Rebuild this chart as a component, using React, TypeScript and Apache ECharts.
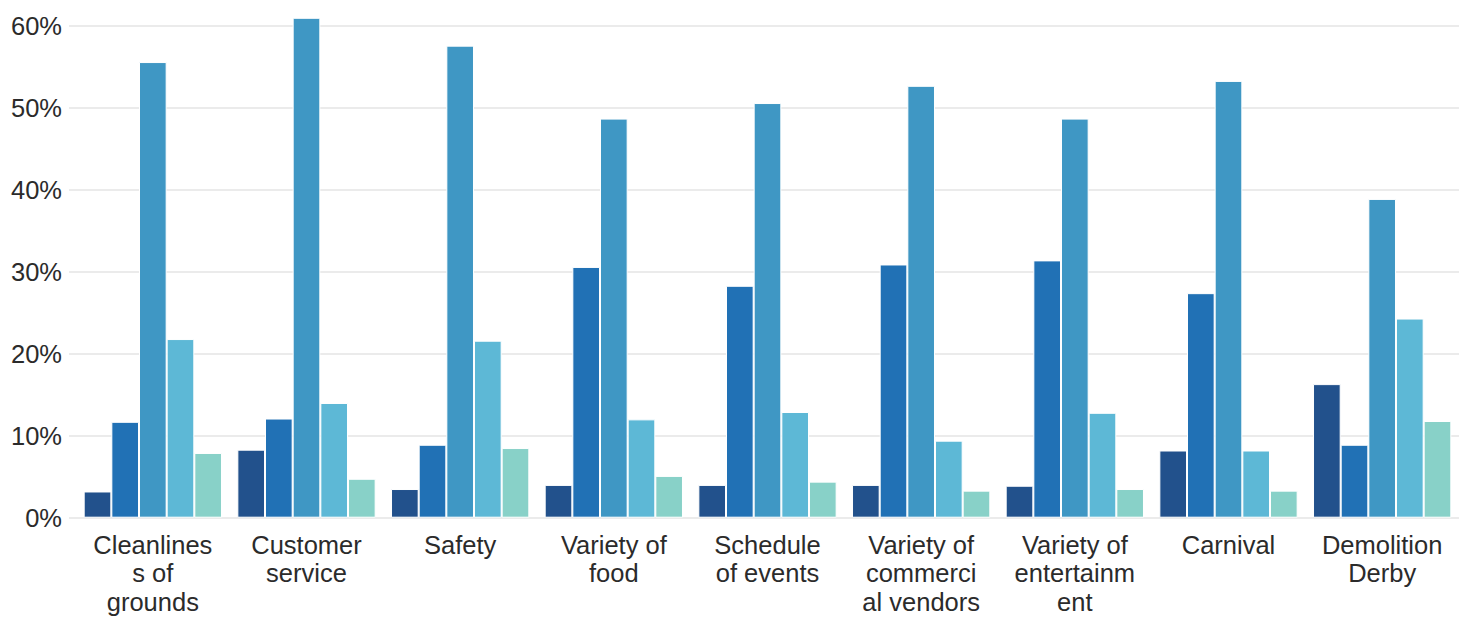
import React, { useEffect, useRef } from "react";
import * as echarts from "echarts";

const categories = [
  "Cleanliness of grounds",
  "Customer service",
  "Safety",
  "Variety of food",
  "Schedule of events",
  "Variety of commercial vendors",
  "Variety of entertainment",
  "Carnival",
  "Demolition Derby",
];

const tickLabels = [
  "Cleanlines\ns of\ngrounds",
  "Customer\nservice",
  "Safety",
  "Variety of\nfood",
  "Schedule\nof events",
  "Variety of\ncommerci\nal vendors",
  "Variety of\nentertainm\nent",
  "Carnival",
  "Demolition\nDerby",
];

const seriesNames = ["Rating 1", "Rating 2", "Rating 3", "Rating 4", "Rating 5"];

const rating1 = [3.2, 8.3, 3.5, 4.0, 4.0, 4.0, 3.9, 8.2, 16.3];
const rating2 = [11.7, 12.1, 8.9, 30.6, 28.3, 30.9, 31.4, 27.4, 8.9];
const rating3 = [55.6, 61.0, 57.6, 48.7, 50.6, 52.7, 48.7, 53.3, 38.9];
const rating4 = [21.8, 14.0, 21.6, 12.0, 12.9, 9.4, 12.8, 8.2, 24.3];
const rating5 = [7.9, 4.75, 8.5, 5.1, 4.4, 3.3, 3.5, 3.3, 11.8];

const seriesValues = [rating1, rating2, rating3, rating4, rating5];
const colors = ["#22518c", "#2171b5", "#3f97c4", "#5db8d6", "#88d1c8"];

const yTicks = [0, 10, 20, 30, 40, 50, 60];

export default function App() {
  const ref = useRef<HTMLDivElement>(null);

  useEffect(() => {
    document.body.style.margin = "0";
    if (!ref.current) return;
    const chart = echarts.init(ref.current, undefined, { renderer: "svg" });
    const top = 26;
    const bottom = 617 - 517.7;
    chart.setOption({
      animation: false,
      backgroundColor: "#ffffff",
      textStyle: { fontFamily: "Liberation Sans, Arial, sans-serif" },
      grid: [
        { left: 76, right: 0, top, bottom },
        { left: 69, right: 0, top, bottom },
      ],
      xAxis: [
        {
          type: "category",
          gridIndex: 0,
          data: categories,
          axisLine: { show: false },
          axisTick: { show: false },
          axisLabel: {
            interval: 0,
            margin: 13,
            fontSize: 25.5,
            lineHeight: 28.5,
            color: "#2b2b2b",
            fontFamily: "Liberation Sans, Arial, sans-serif",
            formatter: (_v: string, i: number) => tickLabels[i],
          },
        },
        {
          type: "value",
          gridIndex: 1,
          show: false,
        },
      ],
      yAxis: [
        {
          type: "value",
          gridIndex: 0,
          min: 0,
          max: yTicks[yTicks.length - 1],
          interval: 10,
          show: false,
          splitLine: { show: false },
        },
        {
          type: "value",
          gridIndex: 1,
          min: 0,
          max: yTicks[yTicks.length - 1],
          interval: 10,
          axisLine: { show: false },
          axisTick: { show: false },
          axisLabel: {
            margin: 7,
            fontSize: 25.5,
            color: "#2b2b2b",
            fontFamily: "Liberation Sans, Arial, sans-serif",
            formatter: "{value}%",
          },
          splitLine: { show: true, lineStyle: { color: "#e5e5e5", width: 1.5 } },
        },
      ],
      series: seriesValues.map((vals, i) => ({
        name: seriesNames[i],
        type: "bar",
        xAxisIndex: 0,
        yAxisIndex: 0,
        data: vals,
        clip: false,
        barGap: "0%",
        barCategoryGap: "10%",
        itemStyle: { color: colors[i], borderColor: "#ffffff", borderWidth: 1 },
      })),
    });
    return () => chart.dispose();
  }, []);

  return (
    <div
      ref={ref}
      style={{ position: "absolute", left: 0, top: 0, width: 1459, height: 617 }}
    />
  );
}
